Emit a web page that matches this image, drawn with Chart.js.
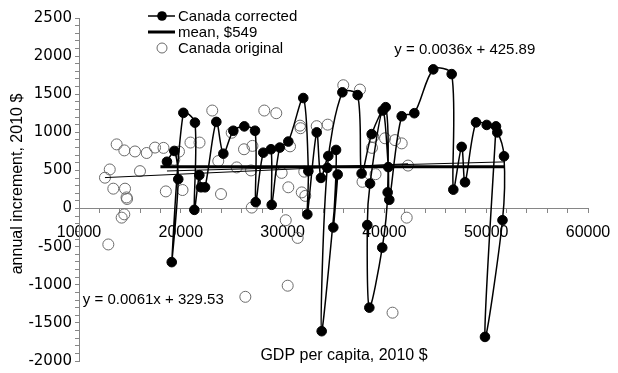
<!DOCTYPE html>
<html>
<head>
<meta charset="utf-8">
<script src="https://cdn.jsdelivr.net/npm/chart.js@4.4.1/dist/chart.umd.min.js"></script>
<style>
  html, body { margin: 0; padding: 0; background: #ffffff; }
  #wrap { width: 618px; height: 373px; position: relative; }
</style>
</head>
<body>
<div id="wrap"><canvas id="c" width="618" height="373"></canvas></div>
<script>
// ---- data ----
const correctedGDP = [18640, 19360, 19750, 19110, 20250, 21390, 21330, 21820, 21980, 22380,
  23490, 24180, 25160, 26240, 27290, 27360, 28100, 28860, 28930, 29720,
  30560, 32030, 32530, 32430, 33350, 33770, 34490, 35250, 34980, 35410,
  33840, 34390, 35870, 37370, 37760, 38750, 40130, 40320, 39790, 38520,
  38320, 38590, 39830, 40380, 40480, 41700, 42940, 44800, 46610, 46770,
  47590, 47920, 49000, 50050, 51090, 51750, 51600, 49880, 50960];
const correctedIncrement = [614, 756, 385, -703, 1256, 1127, -17, 438, 279, 279,
  1137, 720, 1021, 1078, 1021, 84, 733, 778, 49, 800,
  879, 1450, 491, -76, 999, 402, 690, 769, -248, 447,
  -1609, 534, 1525, 1489, 460, 977, 1330, 212, -513, -1300,
  -216, 328, 1286, 544, 115, 1211, 1251, 1826, 1764, 248,
  809, 345, 1131, 1097, 999, 686, -153, -1684, 1078];

const originalGDP = [12550, 13020, 13370, 12880, 13700, 14450, 15500, 16650, 17470, 18300,
  15990, 14520, 14670, 14720, 14190, 14450, 18530, 20170, 19820, 19360,
  20950, 21840, 23090, 23680, 23950, 25000, 26210, 27040, 25490, 26900,
  26970, 26340, 28200, 29380, 30730, 31710, 31760, 33350, 34430, 29910,
  32130, 30560, 31880, 32230, 30310, 31480, 30500, 35960, 37600, 38780,
  38910, 40060, 41040, 41700, 42320, 37850, 39130, 42190, 40800];
const originalIncrement = [405, 513, 261, -471, 842, 763, 749, 729, 800, 796,
  491, 261, 146, 126, -119, -76, 225, 243, 747, 641,
  866, 866, 1286, 623, 190, 995, 778, 822, 540, 500,
  13, -1158, 1286, 1251, 816, 1088, 1054, 1081, 1101, 468,
  484, 279, 212, 166, -153, -385, -1012, 1618, 1561, 796,
  942, 922, 898, 855, 564, 351, 451, -119, -1366];

const meanValue = 549;
const meanGDP = [18000, 51800];
const trendCorrected = { slope: 0.0036, intercept: 425.89 };
const trendOriginal = { slope: 0.0061, intercept: 329.53 };

const xLabelTicks = [10000, 20000, 30000, 40000, 50000, 60000];
const yLabelTicks = [-2000, -1500, -1000, -500, 0, 500, 1000, 1500, 2000, 2500];

const seriesNames = ['Canada corrected', 'mean, $549', 'Canada original'];
const xTitle = 'GDP per capita, 2010 $';
const yTitle = 'annual increment, 2010 $';
const eqCorrected = 'y = 0.0036x + 425.89';
const eqOriginal = 'y = 0.0061x + 329.53';

// ---- build datasets ----
const pts = (xs, ys) => xs.map((x, i) => ({ x: x, y: ys[i] }));
function trendPts(xs, t) {
  const lo = Math.min(...xs), hi = Math.max(...xs);
  return [{ x: lo, y: t.slope * lo + t.intercept }, { x: hi, y: t.slope * hi + t.intercept }];
}

const AXIS = '#868686';
const FONT = '"Liberation Sans", Arial, sans-serif';

const textPlugin = {
  id: 'texts',
  afterDraw(chart) {
    const ctx = chart.ctx;
    const xs = chart.scales.x, ys = chart.scales.y;
    ctx.save();
    ctx.fillStyle = '#000';
    ctx.textBaseline = 'middle';
    // axis titles
    ctx.font = '16px ' + FONT;
    ctx.textAlign = 'center';
    ctx.fillText(xTitle, 344, 356);
    ctx.save();
    ctx.translate(18, 184);
    ctx.rotate(-Math.PI / 2);
    ctx.fillText(yTitle, 0, 0);
    ctx.restore();
    // trendline equations
    ctx.font = '15px ' + FONT;
    ctx.fillText(eqCorrected, xs.getPixelForValue(47900), ys.getPixelForValue(2080));
    ctx.fillText(eqOriginal, xs.getPixelForValue(17300), ys.getPixelForValue(-1195));
    // legend
    const lx0 = 148, lx1 = 175, mx = 162, tx = 178;
    const rows = [16, 32, 48];
    ctx.strokeStyle = '#000';
    ctx.lineWidth = 1.5;
    ctx.beginPath(); ctx.moveTo(lx0, rows[0]); ctx.lineTo(lx1, rows[0]); ctx.stroke();
    ctx.fillStyle = '#000';
    ctx.beginPath(); ctx.arc(mx, rows[0], 4.8, 0, Math.PI * 2); ctx.fill();
    ctx.lineWidth = 3;
    ctx.beginPath(); ctx.moveTo(lx0, rows[1]); ctx.lineTo(lx1, rows[1]); ctx.stroke();
    ctx.lineWidth = 1;
    ctx.strokeStyle = '#6a6a6a';
    ctx.beginPath(); ctx.arc(mx, rows[2], 5, 0, Math.PI * 2); ctx.stroke();
    ctx.fillStyle = '#000';
    ctx.textAlign = 'left';
    ctx.font = '15px ' + FONT;
    seriesNames.forEach((n, i) => ctx.fillText(n, tx, rows[i] + 0.5));
    ctx.restore();
  }
};

new Chart(document.getElementById('c'), {
  type: 'scatter',
  data: {
    datasets: [
      {
        label: seriesNames[0],
        data: pts(correctedGDP, correctedIncrement),
        showLine: true,
        tension: 0.3,
        borderColor: '#000',
        borderWidth: 1.5,
        pointRadius: 4.8,
        pointBackgroundColor: '#000',
        pointBorderColor: '#000',
        pointBorderWidth: 1,
        order: 0
      },
      {
        label: seriesNames[1],
        data: pts(meanGDP, meanGDP.map(() => meanValue)),
        showLine: true,
        borderColor: '#000',
        borderWidth: 3,
        pointRadius: 0,
        order: 1
      },
      {
        label: seriesNames[2],
        data: pts(originalGDP, originalIncrement),
        showLine: false,
        pointRadius: 5.5,
        pointBackgroundColor: 'rgba(0,0,0,0)',
        pointBorderColor: '#6a6a6a',
        pointBorderWidth: 1,
        order: 4
      },
      {
        label: 'trend corrected',
        data: trendPts(correctedGDP, trendCorrected),
        showLine: true,
        borderColor: '#000',
        borderWidth: 1,
        pointRadius: 0,
        order: 2
      },
      {
        label: 'trend original',
        data: trendPts(originalGDP, trendOriginal),
        showLine: true,
        borderColor: '#000',
        borderWidth: 1,
        pointRadius: 0,
        order: 3
      }
    ]
  },
  options: {
    responsive: false,
    animation: false,
    devicePixelRatio: 1,
    layout: { padding: { left: 0, right: 30, top: 18, bottom: 12 } },
    plugins: { legend: { display: false }, tooltip: { enabled: false } },
    scales: {
      x: {
        type: 'linear',
        min: 10000, max: 60000,
        position: { y: 0 },
        afterFit(s) { s.height = 0; s.paddingLeft = 0; s.paddingRight = 0; },
        border: { display: true, color: AXIS, width: 1 },
        grid: { drawOnChartArea: false, drawTicks: true, tickLength: 4, color: AXIS },
        ticks: {
          stepSize: 2000,
          autoSkip: false,
          maxRotation: 0,
          padding: 10,
          color: '#000',
          font: { family: FONT, size: 16 },
          callback: v => xLabelTicks.includes(v) ? String(v) : ''
        }
      },
      y: {
        type: 'linear',
        min: -2000, max: 2500,
        afterFit(s) { s.width = 79; },
        border: { display: true, color: AXIS, width: 1 },
        grid: { drawOnChartArea: false, drawTicks: true, tickLength: 4, color: AXIS },
        ticks: {
          stepSize: 100,
          autoSkip: false,
          padding: 3,
          color: '#000',
          font: { family: '"DejaVu Sans", sans-serif', size: 15 },
          callback: v => yLabelTicks.includes(v) ? String(v) : ''
        }
      }
    }
  },
  plugins: [textPlugin]
});
</script>
</body>
</html>
